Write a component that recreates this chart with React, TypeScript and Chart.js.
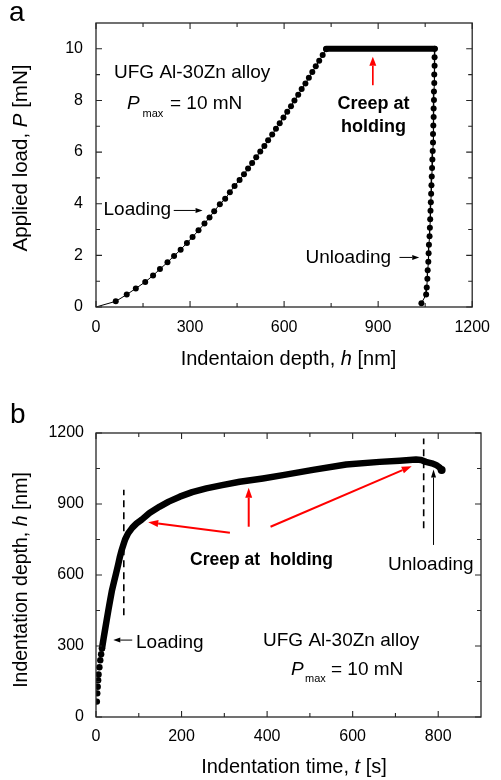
import React, { useEffect, useRef } from "react";
import { Chart, registerables } from "chart.js";
Chart.register(...registerables);

const FONT = "'Liberation Sans', Arial, Helvetica, sans-serif";

// ---------- Panel a : load vs depth ----------
const xTicksA = [0, 300, 600, 900, 1200];
const xMinorA = [150, 450, 750, 1050];
const yTicksA = [0, 2, 4, 6, 8, 10];
const yMinorA = [1, 3, 5, 7, 9];

const loadingA_h = [0, 63, 98, 127, 157, 182, 204, 228, 249, 270, 290, 308, 327, 346, 362, 377, 395, 412, 427, 442, 458, 472, 485, 498, 511, 524, 537, 549, 562, 574, 586, 598, 610, 622, 633, 645, 656, 668, 679, 690, 701, 712, 723, 734];
const loadingA_P = [0, 0.22, 0.48, 0.72, 0.97, 1.22, 1.47, 1.73, 1.98, 2.22, 2.48, 2.71, 2.97, 3.23, 3.47, 3.71, 3.98, 4.19, 4.44, 4.69, 4.92, 5.14, 5.36, 5.58, 5.8, 6.02, 6.24, 6.46, 6.68, 6.9, 7.12, 7.34, 7.56, 7.78, 8.0, 8.22, 8.44, 8.66, 8.88, 9.1, 9.32, 9.54, 9.76, 9.98];

const holdA_h = [734, 1080];
const holdA_P = [10, 10];

const unloadA_h = [1081, 1080, 1080, 1079, 1079, 1078, 1078, 1077, 1077, 1076, 1075, 1075, 1074, 1073, 1072, 1071, 1070, 1069, 1068, 1067, 1066, 1065, 1064, 1062, 1061, 1060, 1058, 1057, 1055, 1053, 1038];
const unloadA_P = [10, 9.67, 9.34, 9.01, 8.68, 8.35, 8.02, 7.69, 7.36, 7.03, 6.7, 6.37, 6.04, 5.71, 5.38, 5.05, 4.72, 4.39, 4.06, 3.73, 3.4, 3.07, 2.74, 2.41, 2.08, 1.75, 1.42, 1.09, 0.76, 0.48, 0.15];

// ---------- Panel b : depth vs time ----------
const xTicksB = [0, 200, 400, 600, 800];
const xMinorB = [100, 300, 500, 700];
const yTicksB = [0, 300, 600, 900, 1200];
const yMinorB = [150, 450, 750, 1050];

const dotsB_t = [2, 3, 4, 5, 6, 8, 10, 12, 14];
const dotsB_h = [65, 100, 128, 155, 180, 210, 240, 265, 290];

const curveB_t = [14, 18, 21, 25, 29, 33, 37, 42, 47, 52, 56, 60, 64, 68, 75, 85, 95, 107, 125, 149, 170, 196, 225, 258, 295, 336, 390, 437, 507, 585, 663, 710, 748, 760, 771, 785, 795, 803, 808];
const curveB_h = [290, 335, 367, 410, 452, 493, 532, 570, 607, 645, 678, 705, 728, 750, 776, 800, 818, 834, 862, 889, 910, 931, 950, 966, 980, 994, 1008, 1022, 1044, 1067, 1078, 1083, 1088, 1086, 1078, 1072, 1065, 1055, 1044];

const dash1_t = [65, 65];
const dash1_h = [430, 960];
const dash2_t = [766, 766];
const dash2_h = [798, 1177];

const pts = (xs: number[], ys: number[]) => xs.map((x, i) => ({ x, y: ys[i] }));

type Part = { t: string; f: string; dy?: number; dx?: number };

function drawParts(ctx: CanvasRenderingContext2D, parts: Part[], x: number, y: number, align: "left" | "center") {
  ctx.textBaseline = "alphabetic";
  ctx.textAlign = "left";
  let total = 0;
  const widths = parts.map((p) => {
    ctx.font = p.f;
    const w = ctx.measureText(p.t).width + (p.dx || 0);
    total += w;
    return w;
  });
  let cx = align === "center" ? x - total / 2 : x;
  parts.forEach((p, i) => {
    ctx.font = p.f;
    ctx.fillText(p.t, cx + (p.dx || 0), y + (p.dy || 0));
    cx += widths[i];
  });
}

function arrow(ctx: CanvasRenderingContext2D, x1: number, y1: number, x2: number, y2: number, color: string, lw: number, hl: number, hw: number) {
  const ang = Math.atan2(y2 - y1, x2 - x1);
  const bx = x2 - hl * Math.cos(ang);
  const by = y2 - hl * Math.sin(ang);
  ctx.save();
  ctx.strokeStyle = color;
  ctx.fillStyle = color;
  ctx.lineWidth = lw;
  ctx.beginPath();
  ctx.moveTo(x1, y1);
  ctx.lineTo(bx, by);
  ctx.stroke();
  ctx.beginPath();
  ctx.moveTo(x2, y2);
  ctx.lineTo(bx + hw * Math.sin(ang), by - hw * Math.cos(ang));
  ctx.lineTo(bx - hw * Math.sin(ang), by + hw * Math.cos(ang));
  ctx.closePath();
  ctx.fill();
  ctx.restore();
}

function frameTicks(chart: any, xMaj: number[], xMin: number[], yMaj: number[], yMin: number[]) {
  const { ctx, chartArea: a, scales } = chart;
  const xs = scales.x;
  const ys = scales.y;
  ctx.save();
  ctx.strokeStyle = "#262626";
  ctx.lineWidth = 1.3;
  ctx.strokeRect(a.left, a.top, a.right - a.left, a.bottom - a.top);
  ctx.lineWidth = 1.1;
  ctx.beginPath();
  const xt = (v: number, len: number) => {
    const p = xs.getPixelForValue(v);
    ctx.moveTo(p, a.bottom);
    ctx.lineTo(p, a.bottom - len);
    ctx.moveTo(p, a.top);
    ctx.lineTo(p, a.top + len);
  };
  const yt = (v: number, len: number) => {
    const p = ys.getPixelForValue(v);
    ctx.moveTo(a.left, p);
    ctx.lineTo(a.left + len, p);
    ctx.moveTo(a.right, p);
    ctx.lineTo(a.right - len, p);
  };
  xMaj.forEach((v) => xt(v, 6));
  xMin.forEach((v) => xt(v, 4));
  yMaj.forEach((v) => yt(v, 6));
  yMin.forEach((v) => yt(v, 4));
  ctx.stroke();
  ctx.restore();
}

const N = (s: number) => `${s}px ${FONT}`;
const I = (s: number) => `italic ${s}px ${FONT}`;
const B = (s: number) => `bold ${s}px ${FONT}`;

function axisCfg(min: number, max: number, ticks: number[], fit: (s: any) => void, pad: number) {
  return {
    type: "linear",
    min,
    max,
    afterBuildTicks: (s: any) => {
      s.ticks = ticks.map((v) => ({ value: v }));
    },
    afterFit: fit,
    grid: { display: false, drawTicks: false },
    border: { display: false },
    ticks: {
      color: "#000",
      font: { family: FONT, size: 16 },
      padding: pad,
      autoSkip: false,
      maxRotation: 0,
      callback: (v: any) => String(v),
    },
  };
}

const decorA = {
  id: "decorA",
  afterDraw(chart: any) {
    const ctx: CanvasRenderingContext2D = chart.ctx;
    const a = chart.chartArea;
    const xs = chart.scales.x;
    const ys = chart.scales.y;
    frameTicks(chart, xTicksA, xMinorA, yTicksA, yMinorA);
    ctx.save();
    ctx.fillStyle = "#000";
    drawParts(ctx, [{ t: "Indentaion depth, ", f: N(20) }, { t: "h", f: I(20) }, { t: " [nm]", f: N(20) }], 288.5, 364.5, "center");
    ctx.save();
    ctx.translate(26.5, 158);
    ctx.rotate(-Math.PI / 2);
    drawParts(ctx, [{ t: "Applied load, ", f: N(20.5) }, { t: "P", f: I(20.5) }, { t: " [mN]", f: N(20.5) }], 0, 0, "center");
    ctx.restore();
    drawParts(ctx, [{ t: "a", f: N(28) }], 9, 21, "left");
    drawParts(ctx, [{ t: "UFG Al-30Zn alloy", f: N(19) }], 114, 77.5, "left");
    drawParts(ctx, [{ t: "P", f: I(19) }], 127, 108.5, "left");
    drawParts(ctx, [{ t: "max", f: N(11) }], 142.5, 116.5, "left");
    drawParts(ctx, [{ t: "= 10 mN", f: N(19) }], 170, 108.5, "left");
    drawParts(ctx, [{ t: "Creep at", f: B(18) }], 373.5, 108.5, "center");
    drawParts(ctx, [{ t: "holding", f: B(18) }], 373.5, 131.5, "center");
    drawParts(ctx, [{ t: "Loading", f: N(19) }], 103.5, 214.5, "left");
    drawParts(ctx, [{ t: "Unloading", f: N(19) }], 305.5, 263, "left");
    arrow(ctx, xs.getPixelForValue(883), ys.getPixelForValue(8.59), xs.getPixelForValue(883), ys.getPixelForValue(9.69), "#ff0000", 1.7, 9, 3.5);
    arrow(ctx, xs.getPixelForValue(248), ys.getPixelForValue(3.74), xs.getPixelForValue(340), ys.getPixelForValue(3.74), "#000", 1, 7, 2.5);
    arrow(ctx, xs.getPixelForValue(968), ys.getPixelForValue(1.92), xs.getPixelForValue(1031), ys.getPixelForValue(1.92), "#000", 1, 7, 2.5);
    ctx.restore();
  },
};

const decorB = {
  id: "decorB",
  afterDraw(chart: any) {
    const ctx: CanvasRenderingContext2D = chart.ctx;
    const xs = chart.scales.x;
    const ys = chart.scales.y;
    const X = (v: number) => xs.getPixelForValue(v);
    const Y = (v: number) => ys.getPixelForValue(v);
    frameTicks(chart, xTicksB, xMinorB, yTicksB, yMinorB);
    ctx.save();
    ctx.fillStyle = "#000";
    drawParts(ctx, [{ t: "Indentation time, ", f: N(20) }, { t: "t", f: I(20) }, { t: " [s]", f: N(20) }], 294, 383, "center");
    ctx.save();
    ctx.translate(26.5, 190);
    ctx.rotate(-Math.PI / 2);
    drawParts(ctx, [{ t: "Indentation depth, ", f: N(19.5) }, { t: "h", f: I(19.5) }, { t: " [nm]", f: N(19.5) }], 0, 0, "center");
    ctx.restore();
    drawParts(ctx, [{ t: "b", f: N(28) }], 10, 33, "left");
    drawParts(ctx, [{ t: "Creep at  holding", f: B(17.5) }], 190, 175, "left");
    drawParts(ctx, [{ t: "Unloading", f: N(19) }], 388, 180, "left");
    drawParts(ctx, [{ t: "Loading", f: N(19) }], 136, 258.3, "left");
    drawParts(ctx, [{ t: "UFG Al-30Zn alloy", f: N(19) }], 263, 256, "left");
    drawParts(ctx, [{ t: "P", f: I(19) }], 291, 285, "left");
    drawParts(ctx, [{ t: "max", f: N(11) }], 305, 292.3, "left");
    drawParts(ctx, [{ t: "= 10 mN", f: N(19) }], 331, 285, "left");
    arrow(ctx, X(313), Y(779), X(122), Y(823), "#ff0000", 2, 10, 3.5);
    arrow(ctx, X(357), Y(804), X(357), Y(969), "#ff0000", 2, 10, 3.5);
    arrow(ctx, X(408), Y(804), X(738), Y(1060), "#ff0000", 2, 10, 3.5);
    arrow(ctx, X(789), Y(727), X(789), Y(1046), "#000", 1, 8, 2.5);
    arrow(ctx, X(84.7), Y(325), X(40.4), Y(325), "#000", 1, 7, 2.5);
    ctx.restore();
  },
};

function configA(): any {
  return {
    type: "scatter",
    data: {
      datasets: [
        {
          data: pts(loadingA_h, loadingA_P),
          showLine: true,
          borderColor: "#000",
          borderWidth: 1,
          backgroundColor: "#000",
          pointBackgroundColor: "#000",
          pointBorderWidth: 0,
          pointRadius: (c: any) => (c.dataIndex === 0 ? 0 : 3),
        },
        {
          data: pts(holdA_h, holdA_P),
          showLine: true,
          borderColor: "#000",
          borderWidth: 6,
          borderCapStyle: "round",
          pointRadius: 0,
        },
        {
          data: pts(unloadA_h, unloadA_P),
          showLine: true,
          borderColor: "#000",
          borderWidth: 1,
          backgroundColor: "#000",
          pointBackgroundColor: "#000",
          pointBorderWidth: 0,
          pointRadius: 3,
        },
      ],
    },
    options: {
      animation: false,
      responsive: false,
      maintainAspectRatio: false,
      layout: { padding: { left: 0, right: 20, top: 23, bottom: 0 } },
      plugins: { legend: { display: false }, tooltip: { enabled: false } },
      scales: {
        x: axisCfg(0, 1200, xTicksA, (s: any) => { s.height = 83; }, 11),
        y: axisCfg(0, 11, yTicksA, (s: any) => { s.width = 96; }, 13),
      },
    },
    plugins: [decorA],
  };
}

function configB(): any {
  return {
    type: "scatter",
    data: {
      datasets: [
        {
          data: pts(dash1_t, dash1_h),
          showLine: true,
          borderColor: "#000",
          borderWidth: 1.6,
          borderDash: [7, 5],
          pointRadius: 0,
        },
        {
          data: pts(dash2_t, dash2_h),
          showLine: true,
          borderColor: "#000",
          borderWidth: 1.6,
          borderDash: [7, 5],
          pointRadius: 0,
        },
        {
          data: pts(dotsB_t, dotsB_h),
          showLine: false,
          pointBackgroundColor: "#000",
          pointBorderWidth: 0,
          pointRadius: 3.2,
        },
        {
          data: pts(curveB_t, curveB_h),
          showLine: true,
          borderColor: "#000",
          borderWidth: 6.5,
          borderCapStyle: "round",
          borderJoinStyle: "round",
          pointBackgroundColor: "#000",
          pointBorderWidth: 0,
          pointRadius: (c: any) => (c.dataIndex === curveB_t.length - 1 ? 4 : 0),
        },
      ],
    },
    options: {
      animation: false,
      responsive: false,
      maintainAspectRatio: false,
      layout: { padding: { left: 0, right: 20, top: 43, bottom: 0 } },
      plugins: { legend: { display: false }, tooltip: { enabled: false } },
      scales: {
        x: axisCfg(0, 900, xTicksB, (s: any) => { s.height = 63; }, 10),
        y: axisCfg(0, 1200, yTicksB, (s: any) => { s.width = 96; }, 12),
      },
    },
    plugins: [decorB],
  };
}

export default function App() {
  const refA = useRef<HTMLCanvasElement>(null);
  const refB = useRef<HTMLCanvasElement>(null);
  useEffect(() => {
    const ca = new Chart(refA.current as HTMLCanvasElement, configA());
    const cb = new Chart(refB.current as HTMLCanvasElement, configB());
    return () => {
      ca.destroy();
      cb.destroy();
    };
  }, []);
  return (
    <div style={{ position: "absolute", left: 0, top: 0, width: 501, height: 780, background: "#fff" }}>
      <canvas ref={refA} width={501} height={390} style={{ position: "absolute", left: 0, top: 0, width: 501, height: 390 }} />
      <canvas ref={refB} width={501} height={390} style={{ position: "absolute", left: 0, top: 390, width: 501, height: 390 }} />
    </div>
  );
}
